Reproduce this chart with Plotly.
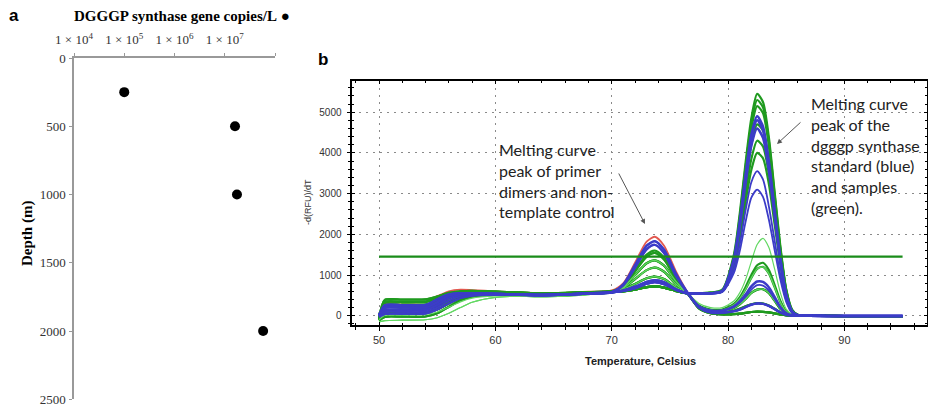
import plotly.graph_objects as go

W, H = 928, 407

# ---------------- Panel a data ----------------
depth_m = [250, 500, 1000, 2000]
gene_copies = [1.0e5, 1.6e7, 1.75e7, 5.8e7]
a_xtick_vals = [1e4, 1e5, 1e6, 1e7, 1e8]
a_xtick_text = ["1 × 10<sup>4</sup>", "1 × 10<sup>5</sup>", "1 × 10<sup>6</sup>", "1 × 10<sup>7</sup>", " "]
a_ytick_vals = [0, 500, 1000, 1500, 2000, 2500]

# ---------------- Panel b data ----------------
# temperature grid (Celsius), split in three segments
temps_start = [50, 50.5, 52, 54, 55, 56, 57, 58, 60, 62, 64, 66, 68, 70]
temps_mid = [71, 72, 73, 73.7, 74.5, 75.5, 76.5]
temps_end = [77.5, 78.5, 79.5, 80.5, 81, 81.5, 82, 82.5, 83, 83.5, 84, 84.5, 85, 85.5, 86, 87, 90, 95]

# -d(RFU)/dT, start segment (50-70 C)
s_g1 = [-50, 390, 395, 400, 470, 560, 600, 610, 590, 570, 550, 560, 580, 600]
s_g5 = [-80, 330, 335, 340, 420, 530, 585, 600, 585, 565, 545, 555, 575, 595]
s_g2 = [-100, 260, 265, 270, 350, 480, 560, 590, 580, 560, 540, 550, 570, 590]
s_g6 = [-60, 200, 205, 210, 290, 430, 530, 570, 570, 550, 530, 540, 565, 585]
s_g3 = [60, 130, 135, 150, 230, 360, 470, 530, 550, 540, 520, 530, 560, 580]
s_g4 = [0, 60, 62, 70, 150, 300, 430, 500, 520, 510, 490, 500, 540, 580]
s_g7 = [-120, -30, -25, -20, 60, 220, 380, 470, 510, 505, 485, 500, 535, 575]
s_lg1 = [-150, -120, -110, -100, -50, 60, 200, 330, 450, 480, 460, 480, 520, 570]
s_lg2 = [-100, 10, 15, 30, 90, 210, 340, 430, 485, 495, 475, 495, 535, 575]
s_b1 = [0, 255, 258, 262, 400, 520, 550, 550, 540, 520, 510, 520, 545, 575]
s_b4 = [20, 200, 203, 208, 330, 490, 540, 545, 535, 520, 510, 520, 545, 575]
s_b2 = [30, 140, 142, 148, 260, 440, 520, 540, 530, 520, 510, 520, 545, 575]
s_b5 = [0, 90, 92, 98, 200, 370, 480, 520, 520, 512, 502, 515, 542, 572]
s_b3 = [-30, 40, 42, 50, 150, 300, 430, 490, 510, 505, 495, 510, 540, 570]
s_r = [0, 300, 320, 340, 480, 600, 640, 630, 600, 570, 550, 560, 590, 620]

# mid segment (primer-dimer peak, 71-76.5 C)
m_r = [800, 1300, 1820, 1940, 1720, 1100, 580]
m_b_hi = [770, 1240, 1720, 1830, 1620, 1040, 570]
m_b_hi2 = [750, 1180, 1630, 1740, 1540, 990, 565]
m_g_hi2 = [730, 1120, 1500, 1600, 1430, 950, 560]
m_g_hi = [720, 1090, 1450, 1540, 1380, 920, 560]
m_g_mid = [700, 1000, 1290, 1360, 1230, 850, 555]
m_g_mid2 = [680, 900, 1120, 1180, 1080, 780, 550]
m_g_lo = [650, 780, 920, 960, 900, 700, 550]
m_b_lo = [630, 720, 840, 880, 830, 660, 548]
m_flat_b = [610, 680, 790, 830, 780, 640, 548]
m_flat_g = [600, 640, 700, 720, 690, 610, 545]

# end segment (product peak, 77.5-95 C)
e_g5450 = [555, 565, 640, 1500, 2500, 3750, 4850, 5450, 5250, 4400, 3050, 1700, 650, 150, 20, 0, -10, -10]
e_g5300 = [555, 565, 630, 1450, 2420, 3650, 4720, 5300, 5120, 4300, 2980, 1650, 630, 140, 20, 0, -10, -10]
e_g5150 = [550, 560, 620, 1400, 2350, 3550, 4600, 5150, 4980, 4180, 2900, 1600, 610, 130, 15, 0, -10, -10]
e_g4700 = [550, 560, 610, 1300, 2150, 3250, 4200, 4700, 4550, 3820, 2650, 1460, 560, 120, 15, 0, -10, -10]
e_g4300 = [548, 555, 600, 1220, 1980, 2980, 3850, 4300, 4160, 3500, 2420, 1340, 510, 110, 10, 0, -10, -10]
e_g4000 = [548, 555, 595, 1160, 1850, 2780, 3580, 4000, 3870, 3250, 2250, 1250, 480, 100, 10, 0, -10, -10]
e_b4900 = [545, 550, 610, 1400, 2300, 3450, 4450, 4900, 4650, 3800, 2600, 1400, 520, 110, 10, 0, -10, -10]
e_b4800 = [545, 550, 605, 1370, 2250, 3380, 4360, 4800, 4560, 3720, 2550, 1370, 510, 105, 10, 0, -10, -10]
e_b4600 = [540, 548, 600, 1320, 2160, 3240, 4180, 4600, 4370, 3570, 2450, 1320, 490, 100, 10, 0, -10, -10]
e_b3550 = [540, 545, 590, 1150, 1750, 2580, 3280, 3550, 3350, 2700, 1850, 1000, 380, 80, 10, 0, -10, -10]
e_b3100 = [540, 545, 580, 1050, 1580, 2300, 2900, 3100, 2920, 2370, 1620, 880, 340, 70, 10, 0, -10, -10]
e_lg1900 = [300, 200, 200, 360, 560, 880, 1330, 1750, 1900, 1680, 1150, 560, 160, 30, 0, 0, -10, -10]
e_g1300 = [250, 150, 150, 290, 450, 700, 1000, 1240, 1300, 1130, 760, 360, 100, 20, 0, 0, -10, -10]
e_g1200 = [240, 140, 140, 270, 420, 650, 930, 1150, 1200, 1040, 700, 330, 90, 20, 0, 0, -10, -10]
e_b850 = [230, 130, 130, 230, 350, 520, 720, 840, 830, 700, 460, 210, 60, 10, 0, 0, -10, -10]
e_b750 = [220, 120, 120, 210, 320, 470, 640, 750, 740, 620, 410, 190, 50, 10, 0, 0, -10, -10]
e_g650 = [230, 120, 110, 190, 280, 410, 560, 640, 650, 560, 370, 170, 50, 10, 0, 0, -10, -10]
e_g300 = [210, 90, 80, 120, 170, 230, 280, 310, 300, 250, 170, 80, 25, 5, 0, 0, -10, -10]
e_b300 = [200, 80, 70, 110, 150, 210, 270, 300, 290, 240, 160, 80, 25, 5, 0, 0, -10, -10]
e_g100 = [180, 60, 30, 40, 50, 70, 90, 100, 95, 80, 55, 30, 10, 0, 0, 0, -10, -10]

threshold_rfu = 1450
threshold_temps = [50, 95]

RED, GREEN, LGREEN, BLUE = "#e2584f", "#1f9a1f", "#62d862", "#3c3cc8"

curves = [
    (RED, 1.8, s_r, m_r, e_g100),
    (GREEN, 2.2, s_g1, m_flat_g, e_g5450),
    (GREEN, 2.2, s_g5, m_flat_g, e_g5300),
    (GREEN, 2.2, s_g2, m_flat_g, e_g5150),
    (GREEN, 2.2, s_g6, m_flat_g, e_g4700),
    (GREEN, 2.2, s_g3, m_flat_g, e_g4300),
    (GREEN, 2.2, s_g7, m_flat_g, e_g4000),
    (GREEN, 2.2, s_g2, m_g_hi, e_g1300),
    (GREEN, 2.2, s_g4, m_g_hi, e_g1200),
    (GREEN, 2.2, s_g1, m_g_hi2, e_g300),
    (GREEN, 2.2, s_g5, m_g_mid, e_g650),
    (GREEN, 2.2, s_g3, m_g_mid2, e_g100),
    (GREEN, 2.2, s_g4, m_g_lo, e_g100),
    (GREEN, 2.2, s_g6, m_g_mid, e_g100),
    (GREEN, 2.2, s_g7, m_g_mid2, e_g650),
    (GREEN, 2.2, s_g5, m_g_lo, e_g300),
    (LGREEN, 1.2, s_lg1, m_g_mid, e_lg1900),
    (LGREEN, 1.2, s_lg2, m_g_mid2, e_g650),
    (LGREEN, 1.2, s_lg1, m_g_lo, e_g1200),
    (BLUE, 2.5, s_b1, m_flat_b, e_b4900),
    (BLUE, 2.5, s_b4, m_flat_b, e_b4800),
    (BLUE, 2.5, s_b2, m_flat_b, e_b4600),
    (BLUE, 1.8, s_b3, m_b_lo, e_b3550),
    (BLUE, 1.8, s_b5, m_b_lo, e_b3100),
    (BLUE, 2.5, s_b1, m_b_hi, e_b300),
    (BLUE, 2.5, s_b4, m_b_hi2, e_b850),
    (BLUE, 1.8, s_b2, m_b_hi, e_b750),
    (BLUE, 1.8, s_b5, m_b_hi2, e_b300),
    (BLUE, 1.8, s_b3, m_flat_b, e_b300),
]

def px_x(x):
    return x / W

def px_y(y):
    return 1 - y / H

fig = go.Figure()

temps_all = temps_start + temps_mid + temps_end
for color, width, s, m, e in curves:
    fig.add_trace(go.Scatter(
        x=temps_all, y=s + m + e, mode="lines",
        line=dict(color=color, width=width, shape="spline", smoothing=0.7),
        xaxis="x", yaxis="y", hoverinfo="skip"))

fig.add_trace(go.Scatter(
    x=threshold_temps, y=[threshold_rfu, threshold_rfu], mode="lines",
    line=dict(color="#1a8c1a", width=2.2), xaxis="x", yaxis="y"))

# helper trace for the inside-tick overlay axes
fig.add_trace(go.Scatter(
    x=threshold_temps, y=[threshold_rfu, threshold_rfu], mode="lines",
    line=dict(color="rgba(0,0,0,0)", width=0), xaxis="x3", yaxis="y3",
    hoverinfo="skip"))

# panel a points
fig.add_trace(go.Scatter(
    x=gene_copies, y=depth_m, mode="markers",
    marker=dict(color="black", size=10), xaxis="x2", yaxis="y2"))

bx_dom = [px_x(352.3), px_x(927)]
by_dom = [px_y(325.3), px_y(81)]
bx_rng = [47.7, 97.1]
by_rng = [-236, 5767]
grid_col = "#8a8a8a"
tick_font = dict(family="Liberation Sans, Arial, sans-serif", size=11, color="#333")
serif = "Liberation Serif, Times New Roman, serif"
sans = "Liberation Sans, Arial, sans-serif"

fig.update_layout(
    width=W, height=H, margin=dict(l=0, r=0, t=0, b=0, autoexpand=False),
    paper_bgcolor="white", plot_bgcolor="white", showlegend=False,
    xaxis=dict(domain=bx_dom, range=bx_rng, anchor="y", automargin=False,
               showline=True, linecolor="black", linewidth=1.5, mirror=True,
               ticks="outside", ticklen=4, tickwidth=1.2, tickcolor="black",
               tickvals=[50, 60, 70, 80, 90], tickfont=tick_font,
               showgrid=True, gridcolor=grid_col, griddash="2px,5px", gridwidth=1,
               zeroline=False,
               minor=dict(dtick=2, tick0=50, ticks="outside", ticklen=3, tickcolor="black",
                          tickwidth=1, showgrid=False)),
    yaxis=dict(domain=by_dom, range=by_rng, anchor="x", automargin=False,
               showline=True, linecolor="black", linewidth=1.5, mirror=True,
               ticks="outside", ticklen=4, tickwidth=1.2, tickcolor="black",
               tickvals=[0, 1000, 2000, 3000, 4000, 5000], tickfont=dict(tick_font, size=10),
               ticklabelstandoff=3,
               showgrid=True, gridcolor=grid_col, griddash="2px,5px", gridwidth=1,
               zeroline=False,
               minor=dict(dtick=200, tick0=0, ticks="outside", ticklen=3, tickcolor="black",
                          tickwidth=1, showgrid=False)),
    xaxis3=dict(domain=bx_dom, range=bx_rng, anchor="y", overlaying="x", automargin=False,
                showline=False, ticks="inside", ticklen=3, tickwidth=1.2, tickcolor="black",
                mirror="ticks", tickvals=[50, 60, 70, 80, 90], showticklabels=False,
                showgrid=False, zeroline=False,
                minor=dict(dtick=2, tick0=50, ticks="inside", ticklen=2, tickcolor="black",
                           showgrid=False)),
    yaxis3=dict(domain=by_dom, range=by_rng, anchor="x", overlaying="y", automargin=False,
                showline=False, ticks="inside", ticklen=3, tickwidth=1.2, tickcolor="black",
                mirror="ticks", tickvals=[0, 1000, 2000, 3000, 4000, 5000], showticklabels=False,
                showgrid=False, zeroline=False,
                minor=dict(dtick=200, tick0=0, ticks="inside", ticklen=2, tickcolor="black",
                           showgrid=False)),
    xaxis2=dict(domain=[px_x(74), px_x(275)], type="log", range=[4, 8], anchor="y2", side="top",
                automargin=False,
                showline=True, linecolor="#999", linewidth=1.5,
                ticks="outside", ticklen=3, tickcolor="#999", tickwidth=1.2,
                tickvals=a_xtick_vals, ticktext=a_xtick_text, ticklabelstandoff=4,
                tickfont=dict(family=serif, size=13, color="#333"),
                showgrid=False, zeroline=False),
    yaxis2=dict(domain=[px_y(399.3), px_y(58)], range=[2500, 0], anchor="x2", automargin=False,
                showline=True, linecolor="#999", linewidth=1.5,
                ticks="outside", ticklen=3, tickcolor="#999", tickwidth=1.2,
                tickvals=a_ytick_vals, ticklabelstandoff=1,
                tickfont=dict(family=serif, size=13, color="#333"),
                showgrid=False, zeroline=False),
)

note_font = dict(family="Lato, sans-serif", size=16, color="#222")

annots = [
    dict(text="<b>a</b>", x=px_x(14), y=px_y(15), font=dict(family=sans, size=17, color="black")),
    dict(text="<b>b</b>", x=px_x(323), y=px_y(59), font=dict(family=sans, size=17, color="black")),
    dict(text="<b>DGGGP synthase gene copies/L</b> ●", x=px_x(72), y=px_y(16), xanchor="left",
         font=dict(family=serif, size=15, color="black")),
    dict(text="<b>Depth (m)</b>", x=px_x(27), y=px_y(234), textangle=-90,
         font=dict(family=serif, size=15, color="black")),
    dict(text="<b>Temperature, Celsius</b>", x=px_x(640), y=px_y(361),
         font=dict(family=sans, size=11, color="#222")),
    dict(text="-d(RFU)/dT", x=px_x(308), y=px_y(202), textangle=-90,
         font=dict(family=sans, size=9, color="#333")),
]

left_lines = ["Melting curve", "peak of primer", "dimers and non-", "template control"]
left_y = [149, 170, 191, 211]
for t, yy in zip(left_lines, left_y):
    annots.append(dict(text=t, x=px_x(497), y=px_y(yy), xanchor="left", font=note_font))

right_lines = ["Melting curve", "peak of the", "dgggp synthase", "standard (blue)", "and samples", "(green)."]
right_y = [103, 124, 145, 166, 186, 207]
for t, yy in zip(right_lines, right_y):
    annots.append(dict(text=t, x=px_x(809), y=px_y(yy), xanchor="left", font=note_font))

for a in annots:
    a.setdefault("xanchor", "center")
    a.update(xref="paper", yref="paper", yanchor="middle", showarrow=False)

# arrows (head position, tail offset in px)
arrows = [((645, 224), (618, 172)), ((777, 144), (802, 121))]
for (hx, hy), (tx, ty) in arrows:
    annots.append(dict(text="", xref="paper", yref="paper", x=px_x(hx), y=px_y(hy),
                       ax=tx - hx, ay=ty - hy, showarrow=True, arrowhead=2, arrowsize=1,
                       arrowwidth=1, arrowcolor="#555"))

fig.update_layout(annotations=annots)
fig.write_html("out.html")
